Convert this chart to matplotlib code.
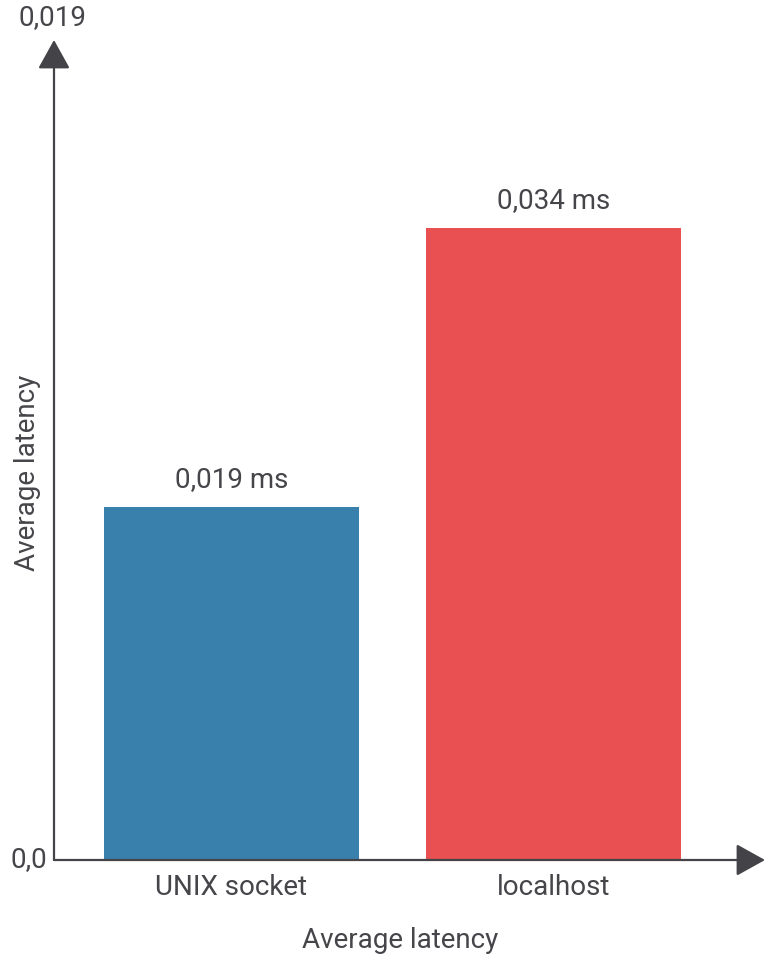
import matplotlib.pyplot as plt

plt.rcParams['font.family'] = ['Roboto', 'DejaVu Sans']

categories = ['UNIX socket', 'localhost']
latency = [0.019, 0.034]
value_labels = ['0,019 ms', '0,034 ms']
colors = ['#3a80ad', '#e85052']

text_color = '#45454a'
axis_color = '#434348'

fig = plt.figure(figsize=(7.68, 9.65), dpi=100)
ax = fig.add_axes([54/768, (965-860)/965, (765-54)/768, (860-40)/965])

x = range(len(categories))
ax.bar(x, latency, width=0.79, color=colors)

for i, v in enumerate(latency):
    ax.annotate(value_labels[i], xy=(i, v), xytext=(0, 10), textcoords='offset points',
                ha='center', va='bottom', fontsize=20, color=text_color)

ax.set_xlim(-0.551, 1.657)
ax.set_ylim(0, 0.0441)

for s in ax.spines.values():
    s.set_visible(False)
ax.set_xticks(list(x))
ax.set_xticklabels(categories, fontsize=20, color=text_color)
ax.tick_params(axis='x', length=0, pad=10)
ax.set_yticks([])

# axis arrows
arrow = dict(arrowstyle='-|>,head_length=0.9,head_width=0.5', lw=1.6, color=axis_color,
             mutation_scale=20, shrinkA=0, shrinkB=0)
ax.annotate('', xy=(0, 1), xytext=(0, 0), xycoords='axes fraction', arrowprops=arrow)
ax.annotate('', xy=(1, 0), xytext=(0, 0), xycoords='axes fraction', arrowprops=arrow)

ax.text(-0.01, 0, '0,0', transform=ax.transAxes, ha='right', va='center',
        fontsize=20, color=text_color)
fig.text(52/768, (965-18)/965, '0,019', ha='center', va='center', fontsize=20, color=text_color)

fig.text(400/768, (965-940)/965, 'Average latency', ha='center', va='center',
         fontsize=20, color=text_color)
fig.text(28/768, (965-473)/965, 'Average latency', ha='center', va='center',
         rotation=90, fontsize=20, color=text_color)

plt.savefig('out.png', dpi=100)
